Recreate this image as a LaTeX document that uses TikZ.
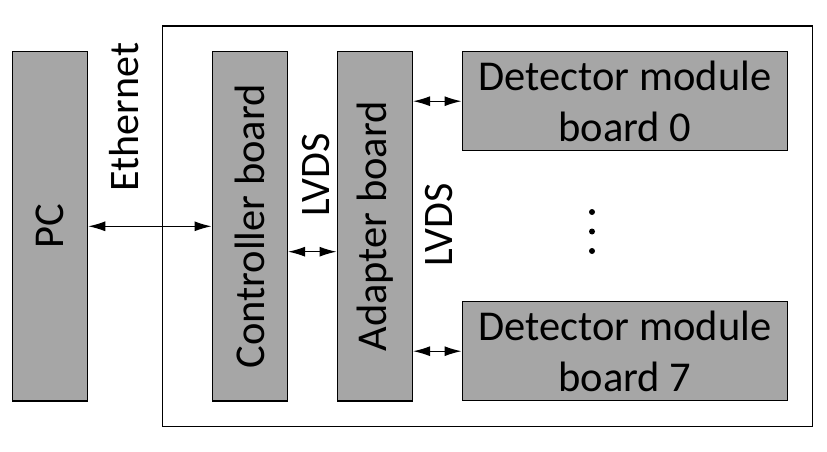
\documentclass[tikz,border=0pt]{standalone}
\usepackage{fontspec}
\setmainfont{Carlito}
\usetikzlibrary{arrows.meta}
\definecolor{boardgray}{HTML}{A6A6A6}

\begin{document}
\begin{tikzpicture}[x=1pt,y=-1pt,>={Latex[length=17pt,width=10pt]},line join=miter,
  board/.style={draw,line width=1.5pt,fill=boardgray,inner sep=0pt,align=center,font=\fontsize{42.5}{51}\selectfont},
  tall/.style={board,minimum width=349.3pt,minimum height=75pt,rotate=90},
  wide/.style={board,minimum width=325.4pt,minimum height=99pt},
  link/.style={<->,line width=1.2pt},
  buslabel/.style={rotate=90,inner sep=0pt,font=\fontsize{42}{50}\selectfont}]
\useasboundingbox (0,0) rectangle (827,452);
\draw[line width=1.3pt] (162.3,26) rectangle (812.3,426.7);
\node[tall] (pc) at (50,226.3) {PC};
\node[tall] (ctrl) at (249.8,226.3) {Controller board};
\node[tall] (adapt) at (374.8,226.3) {Adapter board};
\node[wide] (det0) at (625,101.2) {Detector module\\board 0};
\node[wide] (det7) at (625,351.2) {Detector module\\board 7};
\draw[link] (pc.south) -- (ctrl.north);
\draw[link] ([yshift=-25.4pt]ctrl.south) -- ([yshift=-25.4pt]adapt.north);
\draw[link] (adapt.south |- det0.west) -- (det0.west);
\draw[link] (adapt.south |- det7.west) -- (det7.west);
\node[buslabel] (eth) at (124,117) {Ethernet};
\node[buslabel] (lvds1) at (316,175) {LVDS};
\node[buslabel] (lvds2) at (439,225) {LVDS};
\foreach \dy in {212,231.5,251}
  \fill (592,\dy) circle (3pt);
\end{tikzpicture}
\end{document}
